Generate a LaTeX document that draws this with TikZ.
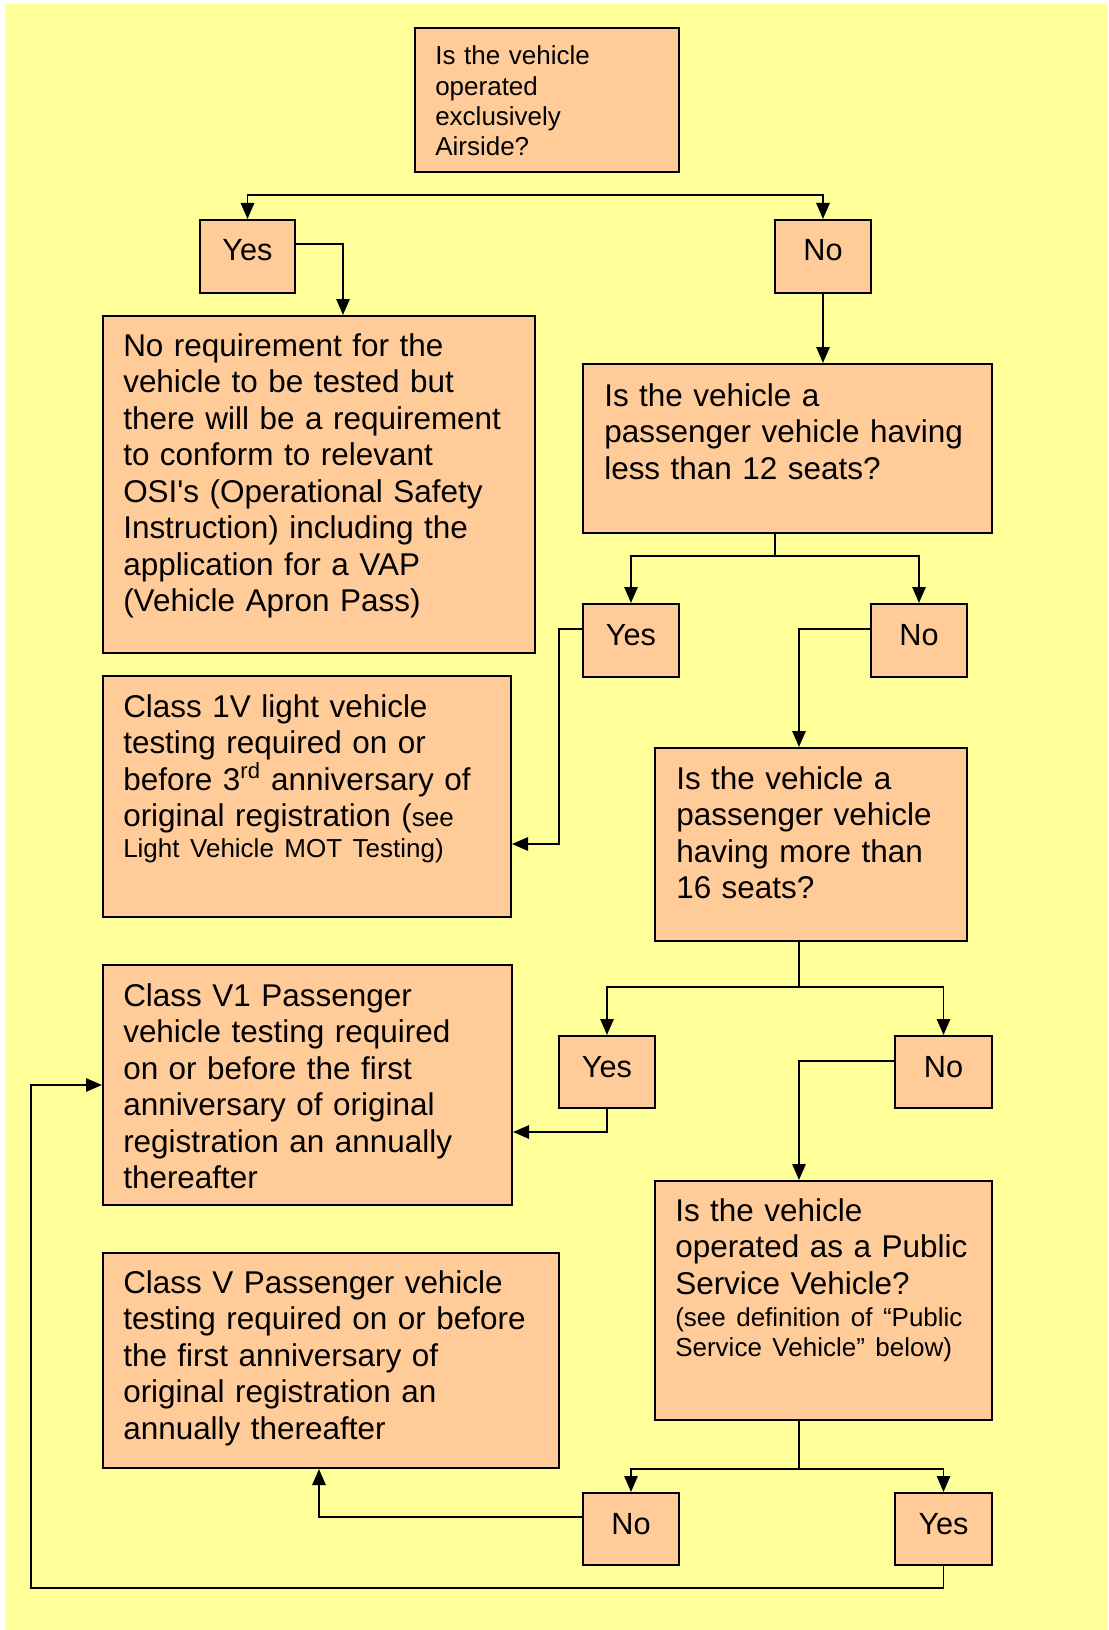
\documentclass[tikz,border=0pt]{standalone}
\usepackage{fontspec}
\setmainfont{Liberation Sans}[Ligatures=TeXOff]
\usetikzlibrary{arrows.meta,fit}
\definecolor{pagebg}{HTML}{FFFF99}
\definecolor{boxfill}{HTML}{FFCC99}
\newcommand\smalltxt{\fontsize{19.5pt}{22.7pt}\selectfont}

\begin{document}
\begin{tikzpicture}[x=0.75pt,y=-0.75pt,
  >={Triangle[length=12pt,width=10pt]},
  box/.style={draw=black,line width=1.5pt,fill=boxfill,inner sep=0pt,rectangle},
  body/.style={inner sep=0pt,anchor=base west,align=left,text width=360pt,
    font=\fontsize{23.6pt}{27.4pt}\selectfont},
  smallbody/.style={body,font=\smalltxt},
  lbl/.style={inner sep=0pt,anchor=base,font=\fontsize{23pt}{27pt}\selectfont},
  link/.style={draw=black,line width=1.4pt}
]
\useasboundingbox (0,0) rectangle (1108,1630);
\fill[white] (0,0) rectangle (1108,1630);
\fill[pagebg] (5,4) rectangle (1108,1630);

% ---- boxes ----
\node[box,fit={(415,28) (679,172)}] (Q1) {};
\node[box,fit={(200,220) (295,293)}] (Yes1) {};
\node[box,fit={(775,220) (871,293)}] (No1) {};
\node[box,fit={(103,316) (535,653)}] (A) {};
\node[box,fit={(583,364) (992,533)}] (B) {};
\node[box,fit={(583,604) (679,677)}] (Yes2) {};
\node[box,fit={(871,604) (967,677)}] (No2) {};
\node[box,fit={(103,676) (511,917)}] (C) {};
\node[box,fit={(655,748) (967,941)}] (D) {};
\node[box,fit={(103,965) (512,1205)}] (E) {};
\node[box,fit={(559,1036) (655,1108)}] (Yes3) {};
\node[box,fit={(895,1036) (992,1108)}] (No3) {};
\node[box,fit={(655,1181) (992,1420)}] (F) {};
\node[box,fit={(103,1253) (559,1468)}] (G) {};
\node[box,fit={(583,1493) (679,1565)}] (No4) {};
\node[box,fit={(895,1493) (992,1565)}] (Yes4) {};

% ---- texts ----
\node[smallbody] (Q1t) at (435,65) {Is the vehicle\\operated\\exclusively\\Airside?};
\node[body] (At) at (123,356) {No requirement for the\\vehicle to be tested but\\there will be a requirement\\to conform to relevant\\OSI's (Operational Safety\\Instruction) including the\\application for a VAP\\(Vehicle Apron Pass)};
\node[body] (Bt) at (604,406) {Is the vehicle a\\passenger vehicle having\\less than 12 seats?};
\node[body] (Ct) at (123,717) {Class 1V light vehicle\\testing required on or\\before 3\textsuperscript{rd} anniversary of\\original registration ({\smalltxt see}\\[-4.2pt]{\smalltxt Light Vehicle MOT Testing)}};
\node[body] (Dt) at (676,789) {Is the vehicle a\\passenger vehicle\\having more than\\16 seats?};
\node[body] (Et) at (123,1006) {Class V1 Passenger\\vehicle testing required\\on or before the first\\anniversary of original\\registration an annually\\thereafter};
\node[body] (Ft) at (675,1221) {Is the vehicle\\operated as a Public\\Service Vehicle?\\[-3.4pt]{\smalltxt (see definition of “Public}\\[-4.8pt]{\smalltxt Service Vehicle” below)}};
\node[body] (Gt) at (123,1293) {Class V Passenger vehicle\\testing required on or before\\the first anniversary of\\original registration an\\annually thereafter};

\foreach \n/\t in {Yes1/Yes,No1/No,Yes2/Yes,No2/No,Yes3/Yes,No3/No,No4/No,Yes4/Yes}
  \node[lbl] (\n-t) at ([yshift=-31.5pt]\n.north) {\t};

% ---- connectors ----
\coordinate (bar1) at (535,195);
\draw[link,<->] (Yes1.north) |- (bar1) -| (No1.north);

\coordinate (c1) at (343,244);
\draw[link,->] (Yes1.east |- c1) -| (A.north -| c1);

\draw[link,->] (No1.south) -- (No1.south |- B.north);

\coordinate (bar2) at (775,556);
\draw[link] (B.south -| bar2) -- (bar2);
\draw[link,<->] (Yes2.north) |- (bar2) -| (No2.north);

\coordinate (c2) at (559,629);
\coordinate (c3) at (559,844);
\draw[link,->] (Yes2.west |- c2) -- (c2) |- (C.east |- c3);

\coordinate (c4) at (799,629);
\draw[link,->] (No2.west |- c4) -| (D.north -| c4);

\coordinate (bar3) at (799,987);
\draw[link] (D.south -| bar3) -- (bar3);
\draw[link,<->] (Yes3.north) |- (bar3) -| (No3.north);

\coordinate (c5) at (607,1132);
\draw[link,->] (Yes3.south) |- (E.east |- c5);

\coordinate (c6) at (799,1061);
\draw[link,->] (No3.west |- c6) -| (F.north -| c6);

\coordinate (bar4) at (799,1469);
\draw[link] (F.south -| bar4) -- (bar4);
\draw[link,<->] (No4.north) |- (bar4) -| (Yes4.north);

\coordinate (c7) at (319,1517);
\draw[link,->] (No4.west |- c7) -| (G.south -| c7);

\coordinate (c8) at (31,1588);
\coordinate (c9) at (31,1085);
\draw[link,->] (Yes4.south) |- (c8) |- (E.west |- c9);
\end{tikzpicture}
\end{document}
